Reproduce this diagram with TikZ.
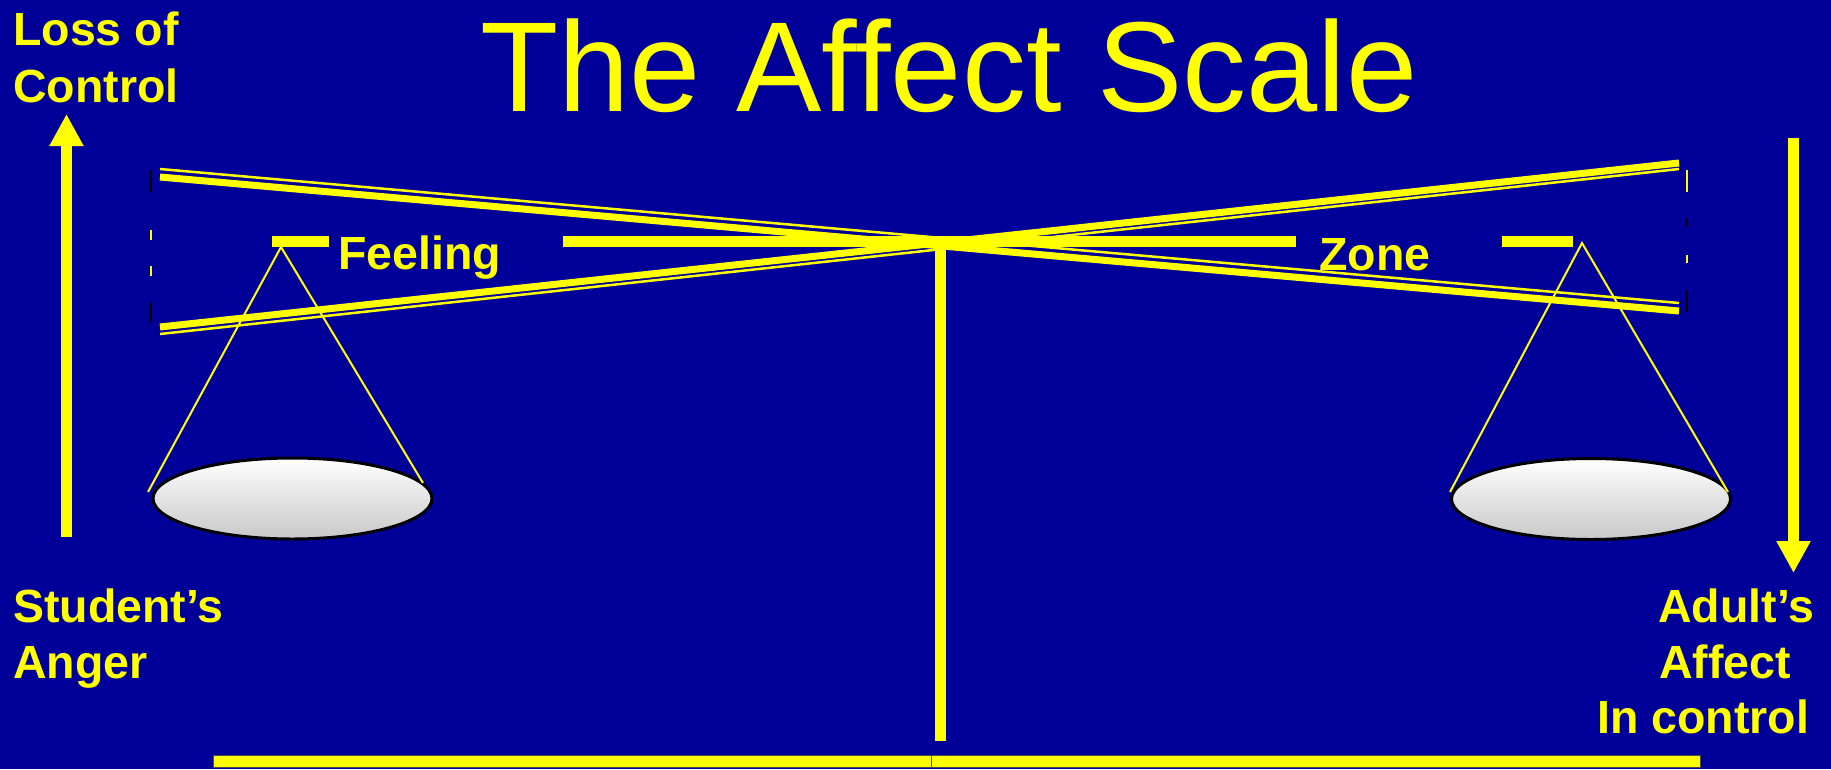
\documentclass[tikz,border=0pt]{standalone}
\usepackage{fontspec}
\setmainfont{Liberation Sans}
\usetikzlibrary{arrows.meta,shapes.geometric}
\definecolor{bg}{RGB}{0,0,153}
\definecolor{yel}{RGB}{255,255,0}
\definecolor{pangray}{RGB}{200,200,200}
\tikzset{
  lbl/.style={text=yel, font=\bfseries\fontsize{46.5}{56}\selectfont, inner sep=0pt, anchor=base west},
  beamthick/.style={draw=yel, line width=7pt},
  beamthin/.style={draw=yel, line width=2.5pt},
  barseg/.style={draw=yel, line width=11pt},
  stringline/.style={draw=yel, line width=2pt},
  pan/.style={ellipse, draw=black, line width=3pt, top color=white, bottom color=pangray, minimum width=279pt, minimum height=81pt, inner sep=0pt},
  bigarrow/.style={draw=yel, line width=11pt, -{Triangle[width=32pt,length=32pt]}},
  edgeblack/.style={draw=black, line width=2.5pt},
  edgeyel/.style={draw=yel, line width=2.5pt},
}
\begin{document}
\begin{tikzpicture}[x=1pt,y=-1pt]
\path[fill=bg] (0,0) rectangle (1831,769);
\useasboundingbox (0,0) rectangle (1831,769);

% title
\node[text=yel, font=\fontsize{128}{130}\selectfont, inner sep=0pt, anchor=base] (title) at (949,111) {The Affect Scale};

% labels
\node[lbl] (loss1) at (13,45) {Loss of};
\node[lbl] (loss2) at (13,102) {Control};
\node[lbl] (stud1) at (13,622) {Student’s};
\node[lbl] (stud2) at (13,678) {Anger};
\node[lbl] (adult1) at (1658,622) {Adult’s};
\node[lbl] (adult2) at (1659,678) {Affect};
\node[lbl] (adult3) at (1597,733) {In control};

% arrows
\coordinate (upbot) at (66.5,537);
\coordinate (uptop) at (66.5,114);
\draw[bigarrow] (upbot) -- (uptop);
\coordinate (dntop) at (1793.5,138);
\coordinate (dnbot) at (1793.5,573);
\draw[bigarrow] (dntop) -- (dnbot);

% dashed frame edges
\draw[edgeblack] (151,170) -- (151,192);
\draw[edgeyel] (151,230) -- (151,240);
\draw[edgeyel] (151,266) -- (151,276);
\draw[edgeblack] (151,302) -- (151,323);
\draw[edgeyel] (1687,170) -- (1687,192);
\draw[edgeblack] (1687,218) -- (1687,227);
\draw[edgeyel] (1687,255) -- (1687,263);
\draw[edgeblack] (1687,290) -- (1687,312);

% strings to pans
\coordinate (lapex) at (281,247);
\coordinate (rapex) at (1582,243);
\node[pan] (lpan) at (292.5,498.5) {};
\node[pan] (rpan) at (1591,499) {};
\coordinate (lpanL) at (148,492);
\coordinate (lpanR) at (423,483);
\coordinate (rpanL) at (1450,492);
\coordinate (rpanR) at (1728,492);
\draw[stringline] (lpanL) -- (lapex) -- (lpanR);
\draw[stringline] (rpanL) -- (rapex) -- (rpanR);

% tilted beams
\coordinate (b1L) at (160,177);
\coordinate (b1R) at (1679,311);
\coordinate (b1Lt) at (160,169);
\coordinate (b1Rt) at (1679,303);
\coordinate (b2L) at (160,327);
\coordinate (b2R) at (1679,163);
\coordinate (b2Lt) at (160,334);
\coordinate (b2Rt) at (1679,169);
\draw[beamthick] (b1L) -- (b1R);
\draw[beamthin] (b1Lt) -- (b1Rt);
\draw[beamthick] (b2L) -- (b2R);
\draw[beamthin] (b2Lt) -- (b2Rt);

% horizontal beam segments and labels
\draw[barseg] (272,241.5) -- (329,241.5);
\draw[barseg] (563,241.5) -- (1296,241.5);
\draw[barseg] (1502,241.5) -- (1573,241.5);
\node[lbl] (feeling) at (338,269) {Feeling};
\node[lbl] (zone) at (1319,270) {Zone};

% post
\coordinate (posttop) at (940.5,236);
\coordinate (postbot) at (940.5,741);
\draw[draw=yel, line width=11pt] (posttop) -- (postbot);

% base bar
\path[fill=yel, draw=gray!60!black, line width=1pt] (213,755) rectangle (931,767);
\path[fill=yel, draw=gray!60!black, line width=1pt] (931,755) rectangle (1700,767);
\end{tikzpicture}
\end{document}
